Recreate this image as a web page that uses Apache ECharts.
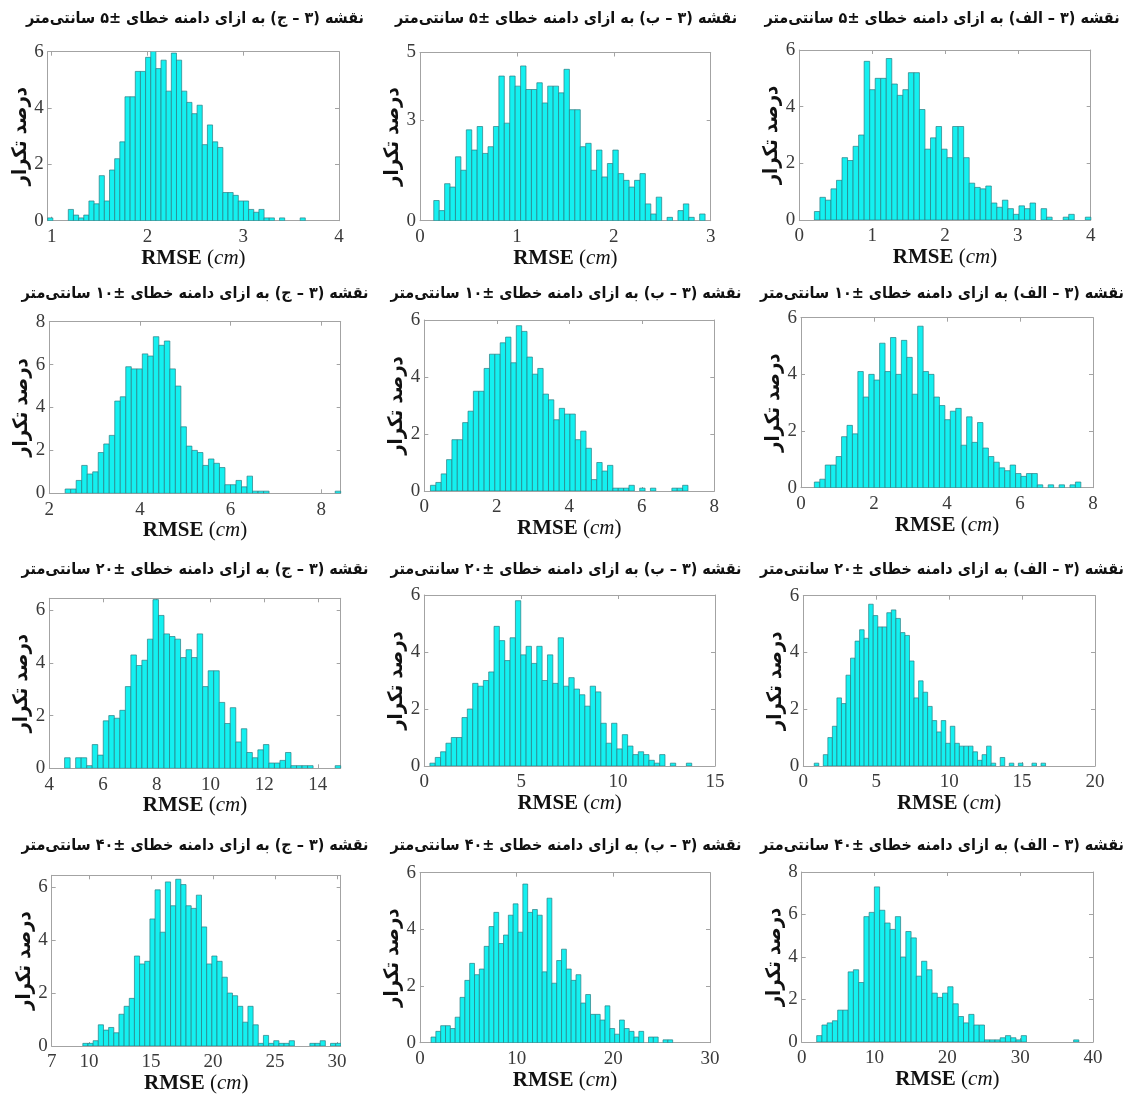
<!DOCTYPE html>
<html><head><meta charset="utf-8">
<script src="https://cdn.jsdelivr.net/npm/echarts@6/dist/echarts.min.js"></script>
<style>html,body{margin:0;padding:0;background:#fff}#c{width:1126px;height:1097px}</style>
</head><body><div id="c"></div><script>
// ---- data (percent frequency per RMSE bin) ----
const p1Start = 0.958, p1Width = 0.0538;
const p1Values = [0.1,0,0,0,0.4,0.2,0.1,0.2,0.7,0.6, 1.6,0.7,1.8,2.2,2.8,4.4,4.4,5.3,5.3,5.8, 6.05,5.4,5.7,4.6,5.95,5.7,4.6,4.2,3.8,4.1, 2.7,3.4,2.8,2.6,1.0,1.0,0.9,0.7,0.7,0.4, 0.3,0.4,0.1,0.1,0,0.1,0,0,0,0.1];
const p2Start = 0.142, p2Width = 0.056;
const p2Values = [0.6,0.3,1.1,1.0,1.9,1.5,2.7,2.1,2.8,2.0, 2.2,2.8,4.3,2.9,4.3,4.0,4.6,3.9,3.9,4.1, 3.5,4.0,4.0,3.8,4.5,3.3,3.3,2.2,2.3,1.5, 2.1,1.3,1.7,2.1,1.4,1.2,1.0,1.2,1.4,0.5, 0.2,0.7,0,0.1,0,0.3,0.5,0.1,0,0.2];
const p3Start = 0.207, p3Width = 0.0759;
const p3Values = [0.3,0.8,0.7,1.1,1.4,2.2,2.1,2.6,3.0,5.6, 4.6,5.0,5.0,5.7,4.8,4.4,4.6,5.2,5.2,3.9, 2.5,2.9,3.3,2.5,2.2,3.3,3.3,2.2,1.3,1.15, 1.1,1.2,0.6,0.45,0.7,0.4,0.2,0.5,0.4,0.6, 0,0.4,0.1,0,0,0.1,0.2,0,0,0.1];
const p4Start = 2.35, p4Width = 0.1216;
const p4Values = [0.2,0.2,0.6,1.3,0.9,1.0,1.9,2.3,2.7,4.3, 4.5,5.9,5.8,5.8,6.5,6.4,7.3,6.9,7.1,5.8, 5.0,3.1,2.2,2.0,1.9,1.3,1.6,1.4,1.2,0.4, 0.4,0.6,0.3,0.8,0.1,0.1,0.1,0,0,0, 0,0,0,0,0,0,0,0,0,0.1];
const p5Start = 0.17, p5Width = 0.148;
const p5Values = [0.2,0.3,0.6,1.1,1.8,1.8,2.4,2.8,3.5,3.5, 4.3,4.8,4.8,5.2,5.4,4.5,5.8,5.6,4.7,4.1, 4.3,3.4,3.2,2.5,2.9,2.7,2.7,1.8,2.1,1.5, 0.4,1.0,0.7,0.9,0.1,0.1,0.1,0.2,0,0.1, 0,0.1,0,0,0,0.1,0.1,0.2];
const p6Start = 0.366, p6Width = 0.149;
const p6Values = [0.2,0.3,0.8,0.8,1.1,1.8,2.2,1.9,4.1,3.2, 4.0,3.8,5.1,4.1,5.3,4.0,5.2,4.6,3.3,5.7, 4.1,4.0,3.2,2.9,2.4,2.7,2.8,1.5,2.5,1.6, 2.3,1.4,1.1,0.9,0.7,0.6,0.8,0.5,0.4,0.5, 0.5,0.1,0,0.1,0,0.1,0,0.1,0.2];
const p7Start = 4.57, p7Width = 0.2056;
const p7Values = [0.4,0,0.4,0.4,0.1,0.9,0.5,1.8,2.0,1.9, 2.2,3.1,4.3,3.9,4.1,4.9,6.4,5.8,5.1,5.0, 4.9,4.2,4.5,4.2,5.1,3.1,3.7,3.7,2.5,1.7, 2.3,1.0,1.5,0.6,0.4,0.7,0.9,0.2,0.2,0.3, 0.6,0.1,0.1,0.1,0.1,0,0,0,0,0.1];
const p8Start = 0.29, p8Width = 0.2757;
const p8Values = [0.1,0.3,0.5,0.8,1.0,1.0,1.7,2.0,2.9,2.8, 3.0,3.3,4.9,4.4,3.7,4.5,5.8,3.9,4.2,3.6, 4.2,3.0,3.9,2.9,4.5,2.8,3.1,2.7,2.5,2.1, 2.8,2.6,1.5,0.8,1.5,0.6,1.1,0.7,0.4,0.5, 0.4,0.2,0.1,0.4,0,0.1,0,0,0.1];
const p9Start = 0.75, p9Width = 0.311;
const p9Values = [0.1,0,0.4,1.0,1.4,2.4,2.2,3.2,3.8,4.4, 4.8,4.5,5.7,5.3,4.9,4.9,5.4,5.5,5.2,4.7, 4.6,3.7,2.4,3.0,2.6,2.1,1.6,1.2,1.6,0.8, 1.4,0.8,0.7,0.7,0.7,0.5,0.2,0.4,0.7,0.1, 0,0.3,0,0.1,0,0.1,0,0,0.1,0,0.1];
const p10Start = 9.51, p10Width = 0.416;
const p10Values = [0.1,0.1,0.2,0.8,0.6,0.7,0.5,1.2,1.5,1.8, 3.4,3.1,3.2,4.8,5.9,4.3,6.2,5.3,6.3,6.1, 5.3,5.2,5.7,4.5,3.1,3.4,3.2,2.6,2.0,1.9, 1.5,0.9,1.5,0.8,0.1,0.4,0.1,0.2,0.1,0.1, 0.2,0,0,0,0.1,0.1,0.2,0,0.1,0.1];
const p11Start = 1.14, p11Width = 0.5;
const p11Values = [0.2,0.4,0.6,0.6,0.5,0.9,1.6,2.2,2.8,2.4, 2.6,3.4,4.1,4.6,3.5,3.8,4.5,4.9,3.9,5.6, 4.6,4.7,4.5,2.5,5.1,2.1,2.9,3.3,2.6,2.2, 2.4,1.4,1.7,1.0,1.0,0.8,1.3,0.5,0.3,0.8, 0.5,0.4,0.2,0.4,0,0.2,0.2,0,0.1,0.1];
const p12Start = 2.06, p12Width = 0.72;
const p12Values = [0.3,0.8,0.9,1.0,1.5,1.5,3.3,3.4,2.8,5.9, 6.1,7.3,6.2,5.6,5.3,5.9,4.0,5.2,4.9,3.1, 3.8,3.4,2.3,2.1,2.3,2.6,1.8,1.2,0.9,1.3, 0.8,0.8,0.1,0.1,0.1,0.2,0.3,0.2,0.1,0.3, 0,0,0,0,0,0,0,0,0,0.1];

// axis ranges and tick labels
const xRanges = [[0.958,4],[0,3],[0,4],[2,8.43],[0,8],[0,8],[4,14.85],[0,15],[0,20],[7,30.3],[0,30],[0,40]];
const yMaxes = [6,5,6,8,6,6,6.45,6,6,6.45,6,8];
const xTicks = [[1,2,3,4],[0,1,2,3],[0,1,2,3,4],[2,4,6,8],[0,2,4,6,8],[0,2,4,6,8],[4,6,8,10,12,14],[0,5,10,15],[0,5,10,15,20],[7,10,15,20,25,30],[0,10,20,30],[0,10,20,30,40]];
const yTicks = [[0,2,4,6],[0,3,5],[0,2,4,6],[0,2,4,6,8],[0,2,4,6],[0,2,4,6],[0,2,4,6],[0,2,4,6],[0,2,4,6],[0,2,4,6],[0,2,4,6],[0,2,4,6,8]];

// text
const mapNames = ['(۳ – ج)', '(۳ – ب)', '(۳ – الف)'];
const errorRanges = ['±۵', '±۱۰', '±۲۰', '±۴۰'];
const yName = 'درصد تکرار';

const starts = [p1Start,p2Start,p3Start,p4Start,p5Start,p6Start,p7Start,p8Start,p9Start,p10Start,p11Start,p12Start];
const widths = [p1Width,p2Width,p3Width,p4Width,p5Width,p6Width,p7Width,p8Width,p9Width,p10Width,p11Width,p12Width];
const values = [p1Values,p2Values,p3Values,p4Values,p5Values,p6Values,p7Values,p8Values,p9Values,p10Values,p11Values,p12Values];

// ---- layout (pixels) ----
const boxes = [
  [47.7,51.7,339,220.7],[420,52.5,710.7,220.7],[799.3,50,1090.7,220],
  [49.3,321.7,340.7,493.3],[424.3,320,714.3,491],[801,317.7,1093,487.7],
  [49.3,598.3,340.7,768.3],[424.3,595,715,766],[803.3,595.7,1095,766],
  [51.7,875.3,340.7,1046],[420,872.7,710,1042.7],[801.7,872,1093,1042]
];
const titleX = [195, 566, 942];
const titleY = [19, 294, 570, 846];

const FRAME = '#a3a3a3', LABEL = '#3a3a3a';
const serif = 'Liberation Serif, Times New Roman, serif';
const fa = 'DejaVu Sans Condensed, DejaVu Sans, sans-serif';

function renderBar(params, api) {
  const y = api.value(2);
  if (!(y > 0)) return null;
  const a = api.coord([api.value(0), y]);
  const b = api.coord([api.value(1), 0]);
  return {type: 'rect', shape: {x: a[0], y: a[1], width: b[0] - a[0], height: b[1] - a[1]},
    style: {fill: '#14f0f0', stroke: '#2a7c82', lineWidth: 0.7}};
}

const grid = [], xAxis = [], yAxis = [], series = [], graphic = [];
boxes.forEach((bx, i) => {
  grid.push({left: bx[0], top: bx[1], width: bx[2] - bx[0], height: bx[3] - bx[1]});
  const [xmin, xmax] = xRanges[i];
  const base = {
    gridIndex: i, type: 'value', min: xmin, max: xmax,
    axisLine: {show: true, onZero: false, lineStyle: {color: FRAME, width: 1}},
    splitLine: {show: false}
  };
  xAxis.push(Object.assign({}, base, {
    position: 'bottom',
    axisTick: {show: true, inside: true, length: 4, lineStyle: {color: FRAME}, customValues: xTicks[i]},
    axisLabel: {customValues: xTicks[i], color: LABEL, fontFamily: serif, fontSize: 19, margin: 7},
    name: '{b|RMSE} {n|(}{i|cm}{n|)}', nameLocation: 'middle', nameGap: 27,
    nameTextStyle: {fontFamily: serif, fontSize: 21, color: '#111',
      rich: {b: {fontFamily: serif, fontSize: 21, fontWeight: 'bold', color: '#111'},
             n: {fontFamily: serif, fontSize: 21, color: '#111'},
             i: {fontFamily: serif, fontSize: 21, fontStyle: 'italic', color: '#111'}}}
  }));
  xAxis.push(Object.assign({}, base, {
    position: 'top',
    axisTick: {show: true, inside: true, length: 4, lineStyle: {color: FRAME}, customValues: xTicks[i]},
    axisLabel: {show: false}
  }));
  const ybase = {
    gridIndex: i, type: 'value', min: 0, max: yMaxes[i],
    axisLine: {show: true, onZero: false, lineStyle: {color: FRAME, width: 1}},
    splitLine: {show: false}
  };
  yAxis.push(Object.assign({}, ybase, {
    position: 'left',
    axisTick: {show: true, inside: true, length: 4, lineStyle: {color: FRAME}, customValues: yTicks[i]},
    axisLabel: {customValues: yTicks[i], color: LABEL, fontFamily: serif, fontSize: 19, margin: 4},
    name: yName, nameLocation: 'middle', nameGap: 17, nameRotate: 90,
    nameTextStyle: {fontFamily: fa, fontWeight: 'bold', fontSize: 20, color: '#111'}
  }));
  yAxis.push(Object.assign({}, ybase, {
    position: 'right',
    axisTick: {show: true, inside: true, length: 4, lineStyle: {color: FRAME}, customValues: yTicks[i]},
    axisLabel: {show: false}
  }));
  const data = values[i].map((v, k) => [starts[i] + k * widths[i], starts[i] + (k + 1) * widths[i], v]);
  series.push({type: 'custom', xAxisIndex: 2 * i, yAxisIndex: 2 * i, renderItem: renderBar,
    encode: {x: [0, 1], y: 2}, data: data, clip: true, silent: true});
  const row = Math.floor(i / 3), col = i % 3;
  graphic.push({type: 'text', x: titleX[col], y: titleY[row], silent: true,
    style: {text: 'نقشه ' + mapNames[col] + ' به ازای دامنه خطای ' + errorRanges[row] + ' سانتی‌متر',
      font: 'bold 16px ' + fa, fill: '#111', textAlign: 'center', textVerticalAlign: 'middle'}});
});

const chart = echarts.init(document.getElementById('c'), null, {renderer: 'canvas'});
chart.setOption({animation: false, backgroundColor: '#fff', grid, xAxis, yAxis, series, graphic});
</script></body></html>
